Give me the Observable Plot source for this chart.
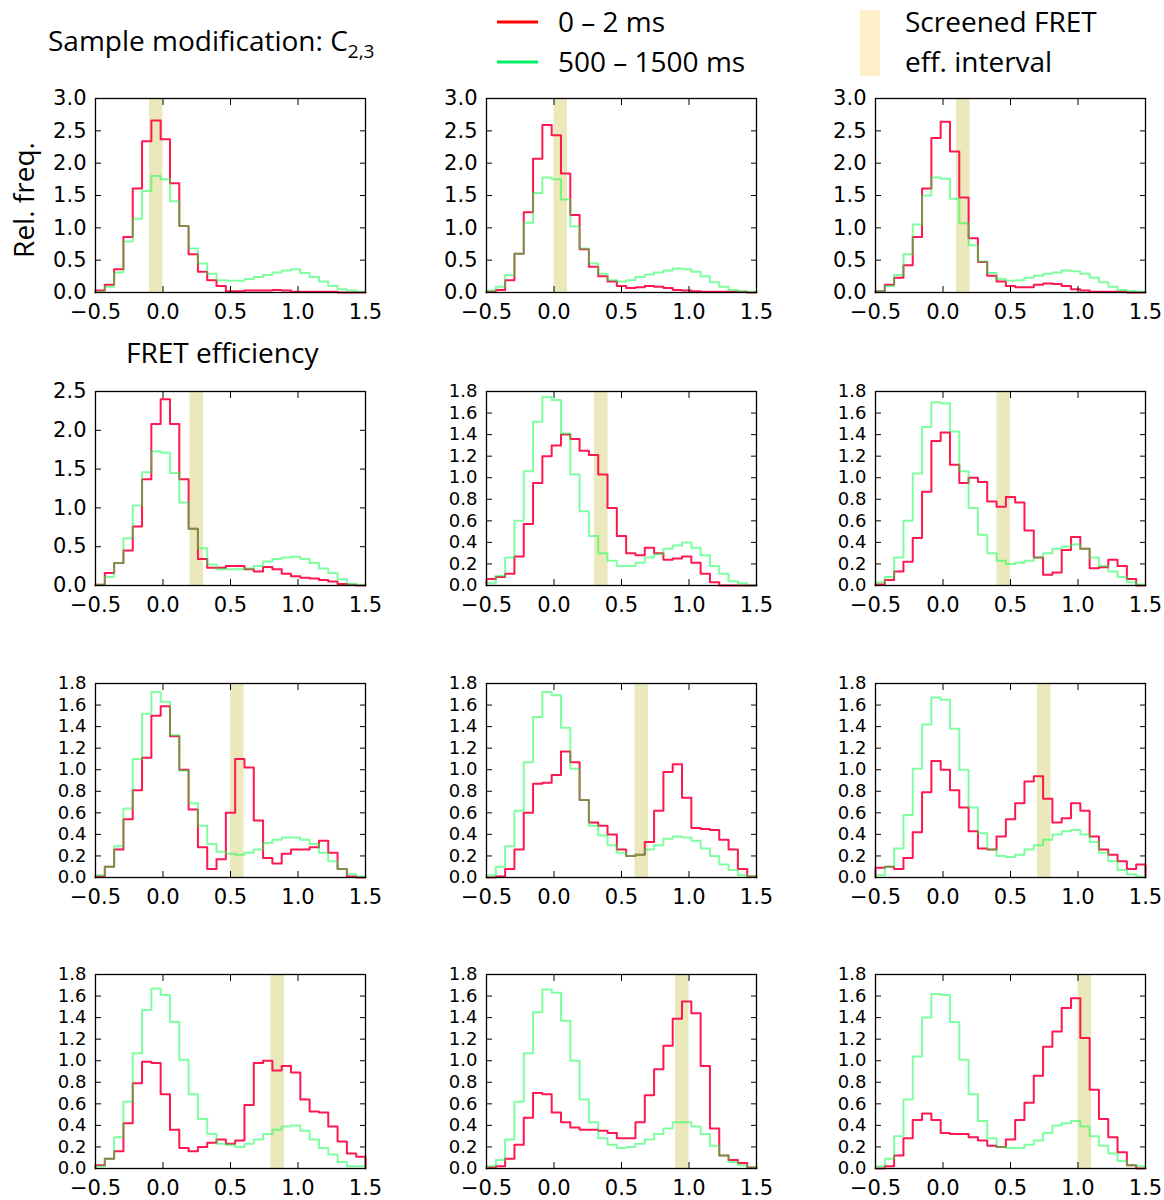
<!DOCTYPE html>
<html><head><meta charset="utf-8">
<script src="https://cdn.jsdelivr.net/npm/d3@7"></script>
<script src="https://cdn.jsdelivr.net/npm/@observablehq/plot@0.6"></script>
<style>
body{margin:0;background:#fff;}
#wrap{position:relative;width:1164px;height:1200px;overflow:hidden;background:#fff;}
#wrap svg.panel{position:absolute;overflow:visible;}
#overlay{position:absolute;left:0;top:0;pointer-events:none;}
</style></head><body><div id="wrap"></div>
<script>
// ---- data ----
const binLo = -0.5, binHi = 1.5, binCount = 29;
const xTicks = [-0.5, 0, 0.5, 1.0, 1.5];
const yTicksTo3 = [0, 0.5, 1.0, 1.5, 2.0, 2.5, 3.0];
const yTicksTo25 = [0, 0.5, 1.0, 1.5, 2.0, 2.5];
const yTicksTo18 = [0, 0.2, 0.4, 0.6, 0.8, 1.0, 1.2, 1.4, 1.6, 1.8];
const yMax = [3, 3, 3, 2.5, 1.8, 1.8, 1.8, 1.8, 1.8, 1.8, 1.8, 1.8];
const bandStart = [-0.1, 0.0, 0.1, 0.2, 0.3, 0.4, 0.5, 0.6, 0.7, 0.8, 0.9, 1.0];
const bandWidth = 0.1;

const red_r1c1 = [0.03,0.12,0.36,0.86,1.61,2.34,2.66,2.37,1.69,1.03,0.59,0.32,0.19,0.10,0.02,0.02,0.03,0.03,0.03,0.04,0.03,0.01,0.01,0.01,0.01,0.01,0,0,0];
const green_r1c1 = [0.01,0.09,0.31,0.79,1.14,1.57,1.80,1.75,1.41,1.03,0.68,0.45,0.29,0.19,0.18,0.18,0.21,0.24,0.27,0.31,0.34,0.36,0.30,0.24,0.17,0.10,0.05,0.03,0.01];
const red_r1c2 = [0.01,0.04,0.19,0.60,1.24,2.07,2.59,2.43,1.84,1.20,0.67,0.40,0.25,0.17,0.10,0.07,0.08,0.10,0.09,0.07,0.04,0.03,0.02,0.01,0.01,0.01,0.01,0.01,0];
const green_r1c2 = [0.03,0.09,0.27,0.60,1.08,1.54,1.78,1.75,1.44,1.02,0.68,0.45,0.29,0.19,0.17,0.19,0.24,0.28,0.31,0.34,0.37,0.36,0.32,0.25,0.16,0.09,0.04,0.02,0.01];
const red_r1c3 = [0.02,0.12,0.23,0.42,0.86,1.61,2.39,2.64,2.18,1.47,0.84,0.47,0.26,0.17,0.10,0.08,0.08,0.12,0.14,0.13,0.10,0.05,0.03,0.01,0.01,0.01,0.01,0,0];
const green_r1c3 = [0.02,0.10,0.27,0.59,1.05,1.50,1.78,1.76,1.45,1.07,0.73,0.48,0.30,0.21,0.18,0.19,0.23,0.26,0.29,0.31,0.34,0.33,0.29,0.23,0.16,0.09,0.04,0.02,0.01];
const red_r2c1 = [0.01,0.16,0.29,0.45,0.76,1.37,2.08,2.40,2.08,1.37,0.73,0.34,0.23,0.23,0.25,0.25,0.21,0.18,0.24,0.21,0.15,0.12,0.10,0.09,0.07,0.05,0.02,0.01,0];
const green_r2c1 = [0.01,0.11,0.29,0.61,1.03,1.46,1.73,1.71,1.45,1.07,0.73,0.48,0.27,0.21,0.21,0.21,0.22,0.25,0.31,0.34,0.36,0.37,0.34,0.29,0.22,0.16,0.08,0.02,0.01];
const red_r2c2 = [0.06,0.08,0.11,0.27,0.57,0.95,1.20,1.30,1.40,1.36,1.25,1.21,1.03,0.72,0.46,0.30,0.28,0.35,0.30,0.24,0.25,0.27,0.21,0.11,0.03,0,0,0,0];
const green_r2c2 = [0.02,0.09,0.26,0.60,1.06,1.52,1.75,1.72,1.41,1.03,0.69,0.46,0.30,0.23,0.18,0.18,0.21,0.26,0.29,0.34,0.37,0.40,0.35,0.28,0.18,0.11,0.04,0.02,0];
const red_r2c3 = [0.01,0.05,0.13,0.22,0.44,0.87,1.34,1.42,1.12,0.95,1.00,0.96,0.78,0.73,0.82,0.77,0.51,0.26,0.10,0.12,0.33,0.45,0.34,0.16,0.17,0.24,0.18,0.06,0];
const green_r2c3 = [0.03,0.08,0.26,0.60,1.04,1.47,1.70,1.69,1.43,1.06,0.72,0.47,0.30,0.23,0.20,0.21,0.23,0.26,0.30,0.34,0.36,0.38,0.34,0.26,0.18,0.13,0.08,0.03,0.01];
const red_r3c1 = [0.01,0.10,0.26,0.54,0.81,1.11,1.50,1.59,1.31,1.00,0.63,0.28,0.08,0.17,0.60,1.10,1.02,0.53,0.18,0.13,0.22,0.26,0.26,0.28,0.34,0.23,0.08,0.01,0];
const green_r3c1 = [0.02,0.10,0.29,0.64,1.10,1.52,1.72,1.63,1.32,0.99,0.69,0.48,0.31,0.24,0.22,0.21,0.23,0.26,0.32,0.35,0.37,0.37,0.35,0.31,0.23,0.15,0.08,0.03,0.01];
const red_r3c2 = [0,0.01,0.08,0.26,0.60,0.87,0.88,0.95,1.17,1.07,0.72,0.51,0.48,0.40,0.26,0.20,0.21,0.33,0.62,0.98,1.05,0.74,0.46,0.45,0.44,0.35,0.26,0.08,0.01];
const green_r3c2 = [0.02,0.10,0.29,0.62,1.07,1.49,1.72,1.69,1.39,1.01,0.72,0.48,0.39,0.30,0.23,0.20,0.21,0.26,0.30,0.36,0.38,0.37,0.34,0.27,0.20,0.12,0.07,0.02,0.01];
const red_r3c3 = [0.09,0.10,0.08,0.18,0.42,0.79,1.08,1.00,0.81,0.65,0.43,0.27,0.26,0.38,0.54,0.69,0.89,0.94,0.73,0.51,0.55,0.69,0.62,0.38,0.26,0.21,0.15,0.08,0.12];
const green_r3c3 = [0.02,0.10,0.27,0.58,1.01,1.42,1.67,1.65,1.38,1.00,0.65,0.41,0.26,0.20,0.19,0.21,0.26,0.30,0.35,0.40,0.43,0.44,0.40,0.33,0.23,0.15,0.07,0.03,0.01];
const red_r4c1 = [0.03,0.09,0.16,0.42,0.79,0.99,0.98,0.69,0.36,0.19,0.16,0.20,0.24,0.27,0.23,0.26,0.59,0.98,1.00,0.91,0.95,0.89,0.64,0.53,0.52,0.39,0.25,0.14,0.11];
const green_r4c1 = [0.02,0.09,0.29,0.62,1.07,1.47,1.67,1.61,1.36,1.01,0.69,0.46,0.32,0.23,0.22,0.20,0.23,0.27,0.32,0.36,0.39,0.40,0.35,0.27,0.19,0.13,0.06,0.02,0.02];
const red_r4c2 = [0.01,0.02,0.09,0.22,0.47,0.70,0.69,0.52,0.43,0.38,0.36,0.36,0.35,0.33,0.28,0.28,0.43,0.68,0.92,1.14,1.39,1.55,1.44,0.95,0.37,0.12,0.08,0.05,0.01];
const green_r4c2 = [0.02,0.08,0.27,0.62,1.07,1.45,1.66,1.63,1.37,1.00,0.64,0.43,0.28,0.22,0.19,0.20,0.23,0.27,0.32,0.37,0.43,0.43,0.39,0.32,0.21,0.12,0.06,0.03,0.01];
const red_r4c3 = [0,0.02,0.12,0.28,0.45,0.51,0.45,0.33,0.32,0.32,0.29,0.26,0.21,0.20,0.27,0.45,0.61,0.86,1.13,1.27,1.49,1.58,1.21,0.73,0.46,0.29,0.15,0.03,0];
const green_r4c3 = [0.02,0.09,0.30,0.64,1.04,1.40,1.62,1.61,1.36,1.01,0.69,0.44,0.28,0.20,0.19,0.19,0.22,0.26,0.33,0.40,0.42,0.44,0.39,0.30,0.21,0.14,0.07,0.03,0.02];

const reds = [red_r1c1, red_r1c2, red_r1c3, red_r2c1, red_r2c2, red_r2c3, red_r3c1, red_r3c2, red_r3c3, red_r4c1, red_r4c2, red_r4c3];
const greens = [green_r1c1, green_r1c2, green_r1c3, green_r2c1, green_r2c2, green_r2c3, green_r3c1, green_r3c2, green_r3c3, green_r4c1, green_r4c2, green_r4c3];
const yTickSets = [yTicksTo3, yTicksTo3, yTicksTo3, yTicksTo25, yTicksTo18, yTicksTo18, yTicksTo18, yTicksTo18, yTicksTo18, yTicksTo18, yTicksTo18, yTicksTo18];

// ---- layout ----
const colLeft = [95, 486, 875];
const rowTop = [98, 391, 683, 974];
const frameW = 270, frameH = 194;
const ml = 60, mr = 20, mt = 14, mb = 44;

const wrap = document.getElementById("wrap");
const edges = d3.range(binCount + 1).map(k => binLo + k * (binHi - binLo) / binCount);
const steps = vals => [{x: edges[0], y: 0}, ...vals.map((v, k) => ({x: edges[k], y: v})),
  {x: edges[binCount], y: vals[binCount - 1]}, {x: edges[binCount], y: 0}];
const fmt = d3.format(".1f");
const blank = () => "";

for (let i = 0; i < 12; i++) {
  const r = Math.floor(i / 3), c = i % 3;
  const yt = yTickSets[i];
  const yFont = yt.length > 7 ? 18 : 21;
  const band = [{x1: bandStart[i], x2: bandStart[i] + bandWidth, y1: 0, y2: yMax[i]}];
  const chart = Plot.plot({
    width: ml + frameW + mr, height: mt + frameH + mb,
    marginLeft: ml, marginRight: mr, marginTop: mt, marginBottom: mb,
    x: {domain: [binLo, binHi], label: null},
    y: {domain: [0, yMax[i]], label: null},
    style: {background: "transparent", fontFamily: "'DejaVu Sans', sans-serif", fontSize: "21px", color: "black", overflow: "visible"},
    marks: [
      Plot.rect(band, {x1: "x1", x2: "x2", y1: "y1", y2: "y2", fill: "#ebe8bb"}),
      Plot.line(steps(reds[i]), {x: "x", y: "y", curve: "step-after", stroke: "#ff1850", strokeWidth: 2}),
      Plot.line(steps(greens[i]), {x: "x", y: "y", curve: "step-after", stroke: "#00ff44", strokeOpacity: 0.5, strokeWidth: 2}),
      Plot.frame({stroke: "black", strokeWidth: 1.3}),
      Plot.axisX(xTicks, {anchor: "bottom", tickSize: 0, tickPadding: 12, tickFormat: fmt, label: null, fontSize: 21}),
      Plot.axisX(xTicks, {anchor: "bottom", tickSize: -6, tickFormat: blank, label: null}),
      Plot.axisX(xTicks, {anchor: "top", tickSize: -6, tickFormat: blank, label: null}),
      Plot.axisY(yt, {anchor: "left", tickSize: 0, tickPadding: 9, tickFormat: fmt, label: null, fontSize: yFont}),
      Plot.axisY(yt, {anchor: "left", tickSize: -6, tickFormat: blank, label: null}),
      Plot.axisY(yt, {anchor: "right", tickSize: -6, tickFormat: blank, label: null})
    ]
  });
  chart.classList.add("panel");
  chart.style.left = (colLeft[c] - ml) + "px";
  chart.style.top = (rowTop[r] - mt) + "px";
  wrap.appendChild(chart);
}

// ---- annotations ----
const svg = d3.select(wrap).append("svg").attr("id", "overlay")
  .attr("width", 1164).attr("height", 1200)
  .style("font-family", "'Open Sans', 'Noto Sans', sans-serif").style("font-size", "28px");
const title = svg.append("text").attr("x", 48).attr("y", 51).attr("fill", "#000");
title.append("tspan").text("Sample modification: C");
title.append("tspan").attr("dy", 7).attr("font-size", 19).text("2,3");
svg.append("line").attr("x1", 497).attr("x2", 538).attr("y1", 22).attr("y2", 22).attr("stroke", "#ff0000").attr("stroke-width", 3);
svg.append("text").attr("x", 558).attr("y", 32).text("0 – 2 ms");
svg.append("line").attr("x1", 497).attr("x2", 538).attr("y1", 62).attr("y2", 62).attr("stroke", "#00ee66").attr("stroke-width", 3);
svg.append("text").attr("x", 558).attr("y", 72).text("500 – 1500 ms");
svg.append("rect").attr("x", 860).attr("y", 10).attr("width", 20).attr("height", 66).attr("fill", "#fdefc7");
svg.append("text").attr("x", 905).attr("y", 32).text("Screened FRET");
svg.append("text").attr("x", 905).attr("y", 72).text("eff. interval");
svg.append("text").attr("transform", "translate(34,200) rotate(-90)").attr("text-anchor", "middle").text("Rel. freq.");
svg.append("text").attr("x", 126).attr("y", 363).text("FRET efficiency");
</script>
</body></html>
